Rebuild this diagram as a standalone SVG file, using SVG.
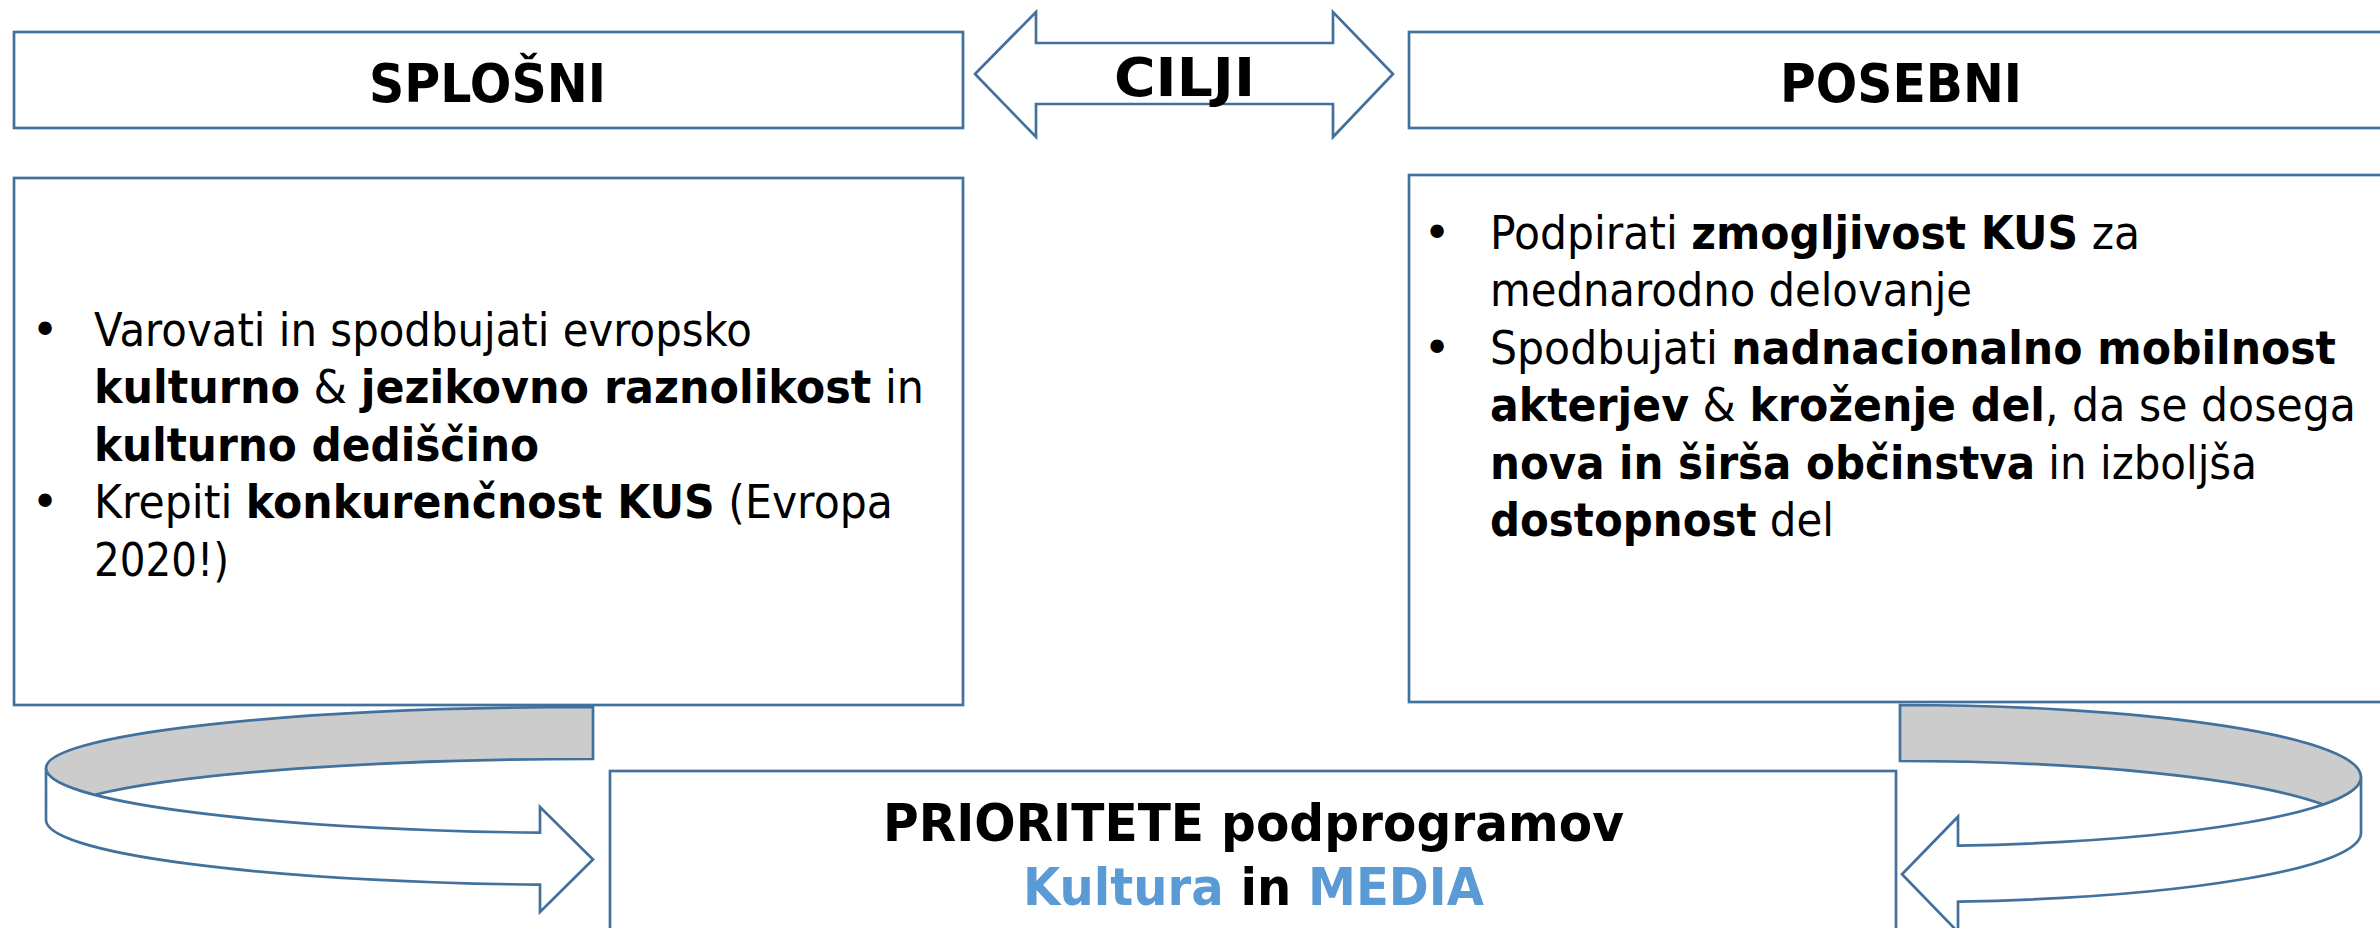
<svg xmlns="http://www.w3.org/2000/svg" width="2380" height="928" viewBox="0 0 2380 928">
<style>
.box{fill:#fff;stroke:#41719c;stroke-width:2.7}
.band{fill:#cccccc;stroke:#41719c;stroke-width:2.7;stroke-linejoin:miter}
.wband{fill:#fff;stroke:#41719c;stroke-width:2.7}
.h{font-family:"DejaVu Sans","Liberation Sans",sans-serif;font-weight:bold;font-size:53px;fill:#000;text-anchor:middle}
.b{font-family:"DejaVu Sans","Liberation Sans",sans-serif;font-size:46px;fill:#000}
.bl{font-family:"DejaVu Sans","Liberation Sans",sans-serif;font-size:46px;fill:#000;text-anchor:middle}
.p{font-family:"DejaVu Sans","Liberation Sans",sans-serif;font-weight:bold;font-size:52px;fill:#000;text-anchor:middle}
.bo{font-weight:bold}
.blue{fill:#5b9bd5}
</style>
<rect width="2380" height="928" fill="#fff"/>

<g id="connectors">
  <g id="arrow-left">
    <path class="wband" d="M46,768 A547,65 0 0 0 540,832.7 L540,807 L593,859.5 L540,912 L540,884.7 A547,65 0 0 1 46,820 Z"/>
    <path class="band" d="M593,707 A547,61 0 0 0 46,768 A547,65 0 0 0 94.7,794.8 A547,61 0 0 1 593,759 Z"/>
  </g>
  <g id="arrow-right">
    <path class="wband" d="M2361,777 A461,69.3 0 0 1 1958,845.7 L1958,816.7 L1902,874.3 L1958,932 L1958,901.7 A461,69.3 0 0 0 2361,833 Z"/>
    <path class="band" d="M1900,705 A461,72 0 0 1 2361,777 A461,69.3 0 0 1 2323.3,804.5 A461,72 0 0 0 1900,761 Z"/>
  </g>
</g>

<g id="splosni">
  <rect class="box" x="14" y="32" width="949" height="96"/>
  <text class="h" x="487.5" y="102" textLength="237" lengthAdjust="spacingAndGlyphs">SPLOŠNI</text>
</g>

<g id="cilji">
  <path class="box" d="M975,74 L1036,12 L1036,43 L1333,43 L1333,12 L1393,74 L1333,137 L1333,104 L1036,104 L1036,137 Z"/>
  <text class="h" x="1184.5" y="96" textLength="141" lengthAdjust="spacingAndGlyphs">CILJI</text>
</g>

<g id="posebni">
  <rect class="box" x="1409" y="32" width="985" height="96"/>
  <text class="h" x="1901" y="102" textLength="242" lengthAdjust="spacingAndGlyphs">POSEBNI</text>
</g>

<g id="splosni-cilji">
  <rect class="box" x="14" y="178" width="949" height="527"/>
  <text class="bl" x="45" y="346">•</text>
  <text class="bl" x="45" y="518">•</text>
  <text class="b" x="94" y="346" textLength="658" lengthAdjust="spacingAndGlyphs">Varovati in spodbujati evropsko</text>
  <text class="b" x="94" y="403" textLength="830" lengthAdjust="spacingAndGlyphs"><tspan class="bo">kulturno</tspan> &amp; <tspan class="bo">jezikovno raznolikost</tspan> in</text>
  <text class="b" x="94" y="461" textLength="445" lengthAdjust="spacingAndGlyphs"><tspan class="bo">kulturno dediščino</tspan></text>
  <text class="b" x="94" y="518" textLength="799" lengthAdjust="spacingAndGlyphs">Krepiti <tspan class="bo">konkurenčnost KUS</tspan> (Evropa</text>
  <text class="b" x="94" y="576" textLength="135" lengthAdjust="spacingAndGlyphs">2020!)</text>
</g>

<g id="posebni-cilji">
  <rect class="box" x="1409" y="175" width="990" height="527"/>
  <text class="bl" x="1437" y="249">•</text>
  <text class="bl" x="1437" y="364">•</text>
  <text class="b" x="1490" y="249" textLength="650" lengthAdjust="spacingAndGlyphs">Podpirati <tspan class="bo">zmogljivost KUS</tspan> za</text>
  <text class="b" x="1490" y="306" textLength="482" lengthAdjust="spacingAndGlyphs">mednarodno delovanje</text>
  <text class="b" x="1490" y="364" textLength="846" lengthAdjust="spacingAndGlyphs">Spodbujati <tspan class="bo">nadnacionalno mobilnost</tspan></text>
  <text class="b" x="1490" y="421" textLength="866" lengthAdjust="spacingAndGlyphs"><tspan class="bo">akterjev</tspan> &amp; <tspan class="bo">kroženje del</tspan>, da se dosega</text>
  <text class="b" x="1490" y="479" textLength="767" lengthAdjust="spacingAndGlyphs"><tspan class="bo">nova in širša občinstva</tspan> in izboljša</text>
  <text class="b" x="1490" y="536" textLength="344" lengthAdjust="spacingAndGlyphs"><tspan class="bo">dostopnost</tspan> del</text>
</g>

<g id="prioritete">
  <rect class="box" x="610" y="771" width="1286" height="180"/>
  <text class="p" x="1253.5" y="841" textLength="741" lengthAdjust="spacingAndGlyphs">PRIORITETE podprogramov</text>
  <text class="p" x="1253.5" y="905" textLength="461" lengthAdjust="spacingAndGlyphs"><tspan class="blue">Kultura</tspan> in <tspan class="blue">MEDIA</tspan></text>
</g>
</svg>
